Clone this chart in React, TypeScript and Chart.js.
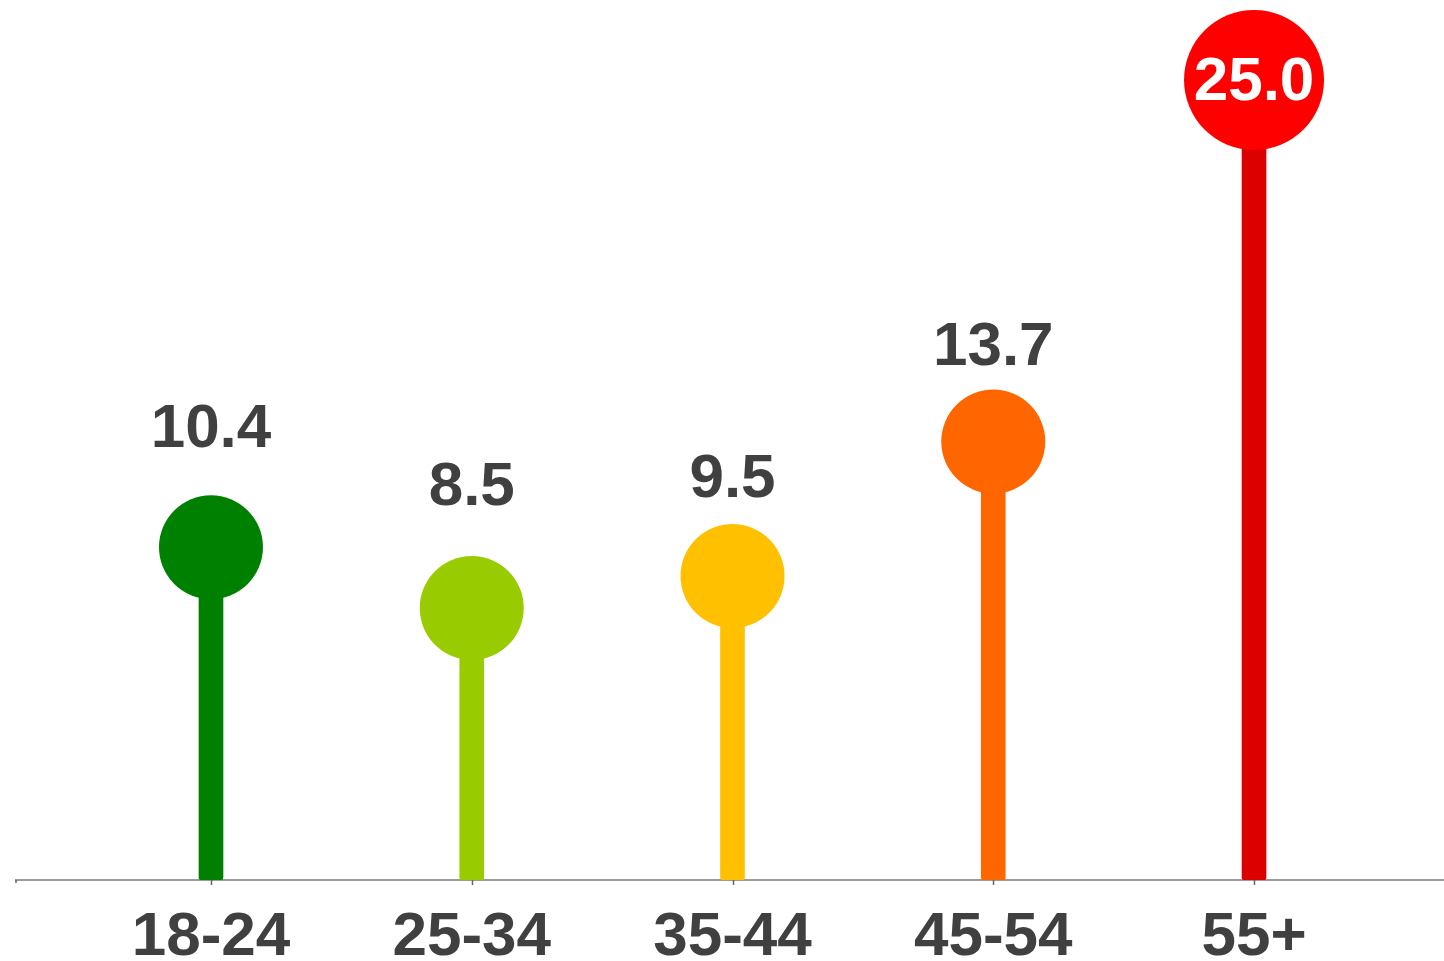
import React, { useEffect, useRef } from "react";
import { Chart, registerables } from "chart.js";

Chart.register(...registerables);

const categories = ["18-24", "25-34", "35-44", "45-54", "55+"];
const values = [10.4, 8.5, 9.5, 13.7, 25.0];
const valueLabels = ["10.4", "8.5", "9.5", "13.7", "25.0"];
const circleColors = ["#008000", "#99cc00", "#ffc000", "#ff6600", "#ff0000"];
const stemColors = ["#007f00", "#99cc00", "#ffc000", "#ff6600", "#dd0000"];
const circleRadii = [52, 52, 52, 52, 70];
// pixel gap from point centre to the label baseline (styling only)
const labelLift = [100, 103, 79, 77, -20];

const TEXT = "#404040";
const FONT = "'Liberation Sans', Arial, Helvetica, sans-serif";

const axisPlugin = {
  id: "axisLine",
  beforeDatasetsDraw(chart: any) {
    const { ctx, chartArea } = chart;
    const xs = chart.scales.x;
    const y = chartArea.bottom;
    ctx.save();
    ctx.strokeStyle = "#9a9a9a";
    ctx.lineWidth = 2;
    ctx.beginPath();
    ctx.moveTo(15, y);
    ctx.lineTo(chart.width, y);
    ctx.stroke();
    ctx.lineWidth = 1.5;
    ctx.strokeStyle = "#666";
    ctx.beginPath();
    ctx.moveTo(16, y);
    ctx.lineTo(16, y + 3);
    for (let i = 0; i < categories.length; i++) {
      const px = Math.round(xs.getPixelForTick(i)) + 0.5;
      ctx.moveTo(px, y);
      ctx.lineTo(px, y + 5);
    }
    ctx.stroke();
    ctx.restore();
  },
};

const labelPlugin = {
  id: "valueLabels",
  afterDatasetsDraw(chart: any) {
    const { ctx } = chart;
    const meta = chart.getDatasetMeta(0);
    ctx.save();
    ctx.font = `bold 62px ${FONT}`;
    ctx.textAlign = "center";
    ctx.textBaseline = "alphabetic";
    meta.data.forEach((el: any, i: number) => {
      const inside = labelLift[i] < 0;
      ctx.fillStyle = inside ? "#ffffff" : TEXT;
      ctx.fillText(valueLabels[i], el.x, el.y - labelLift[i]);
    });
    ctx.restore();
  },
};

export default function App() {
  const ref = useRef<HTMLCanvasElement>(null);

  useEffect(() => {
    document.body.style.margin = "0";
    const canvas = ref.current!;
    const chart = new Chart(canvas, {
      type: "bar",
      data: {
        labels: categories,
        datasets: [
          {
            type: "line",
            data: values,
            showLine: false,
            pointRadius: circleRadii,
            pointHoverRadius: circleRadii,
            pointBackgroundColor: circleColors,
            pointBorderWidth: 0,
            borderWidth: 0,
            clip: false,
            order: 0,
          } as any,
          {
            type: "bar",
            data: values,
            backgroundColor: stemColors,
            barThickness: 24,
            borderSkipped: false,
            borderRadius: { topLeft: 0, topRight: 0, bottomLeft: 3, bottomRight: 3 },
            order: 1,
          } as any,
        ],
      },
      options: {
        responsive: false,
        animation: false,
        devicePixelRatio: 1,
        layout: { autoPadding: false, padding: { left: 80.6, right: 59.6, top: 0, bottom: -34 } },
        plugins: {
          legend: { display: false },
          tooltip: { enabled: false },
        },
        scales: {
          x: {
            type: "category",
            offset: true,
            grid: { display: false, drawTicks: false },
            border: { display: false },
            ticks: {
              color: TEXT,
              padding: 26.5,
              font: { family: FONT, size: 62, weight: "bold", lineHeight: 1 },
              maxRotation: 0,
              autoSkip: false,
            },
          },
          y: {
            display: false,
            min: 0,
            max: 27.5,
          },
        },
      },
      plugins: [axisPlugin, labelPlugin],
    });
    return () => chart.destroy();
  }, []);

  return (
    <div style={{ position: "absolute", left: 0, top: 0, width: 1444, height: 961 }}>
      <canvas ref={ref} width={1444} height={961} />
    </div>
  );
}
